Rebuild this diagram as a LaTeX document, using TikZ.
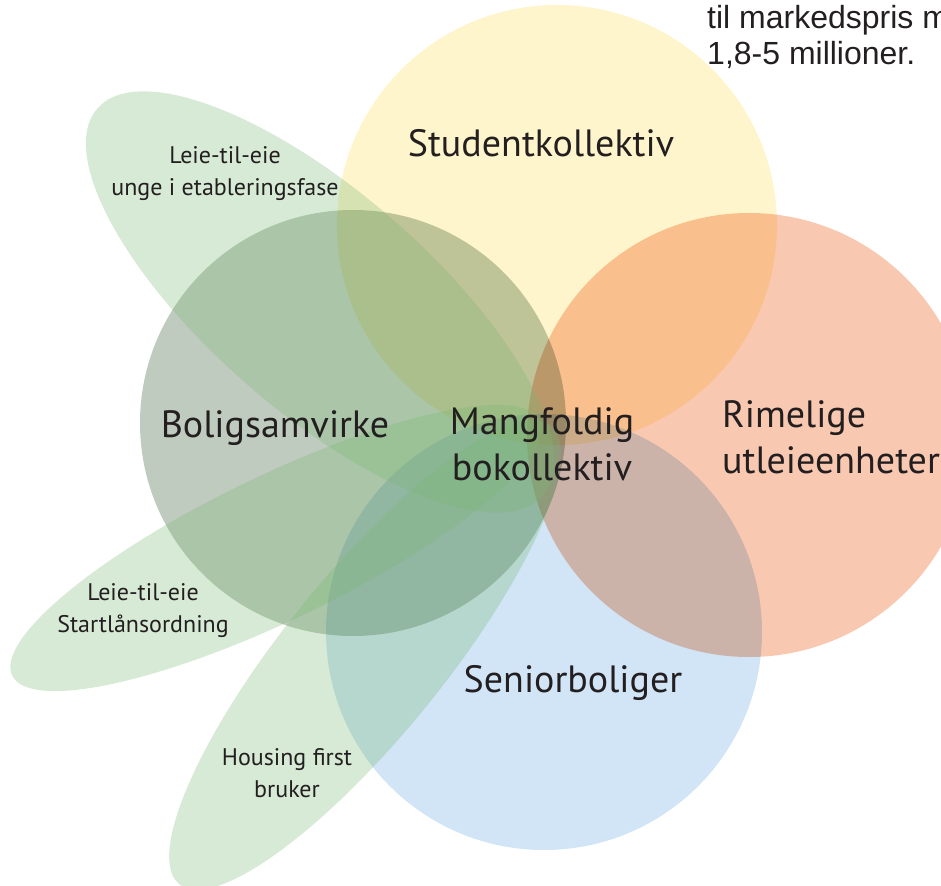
\documentclass[tikz,border=0pt]{standalone}
\usepackage{fontspec}
\setmainfont{PT Sans}
\newfontfamily\arialfont{Liberation Sans}
\definecolor{studyellow}{HTML}{FFF5CC}
\definecolor{rentorange}{HTML}{F9C8B1}
\definecolor{seniorblue}{HTML}{D1E5F6}
\definecolor{coopgrey}{HTML}{BFCBBE}
\definecolor{petalgreen}{HTML}{7AB973}
\definecolor{labeltext}{HTML}{231F20}
\begin{document}
\begin{tikzpicture}[x=1pt,y=-1pt,
	petal/.style={fill=petalgreen, fill opacity=.3},
	big/.style={font=\fontsize{38}{46}\selectfont, text=labeltext, inner sep=0},
	small/.style={font=\fontsize{24}{32}\selectfont, text=labeltext, inner sep=0, align=center}]
	\useasboundingbox (0,0) rectangle (941,885);
	\clip (0,0) rectangle (941,885);
	\begin{scope}[blend mode=multiply]
	\fill[studyellow] (557,225) circle[radius=220];
	\fill[rentorange] (749,435) circle[radius=222];
	\fill[seniorblue] (544,632) circle[radius=218];
	\fill[coopgrey] (353,423) circle[radius=213];
	\end{scope}
	% kronblad
	\fill[petal] (320,302) ellipse[x radius=295, y radius=110, rotate=-41];
	\fill[petal] (276,548) ellipse[x radius=293, y radius=72, rotate=25.8];
	\fill[petal] (365,655) ellipse[x radius=295, y radius=80, rotate=51];
	\node[big, anchor=base] (stud) at (541,157) {Studentkollektiv};
	\node[big, anchor=base] (bolig) at (275,437) {Boligsamvirke};
	\node[big, anchor=base] (senior) at (573,692) {Seniorboliger};
	\node[big, align=center] (mang) at (542,444) {Mangfoldig\\bokollektiv};
	\node[big, align=left, anchor=west] (rim) at (722,437) {Rimelige\\utleieenheter};
	\node[small] (unge) at (225,174) {Leie-til-eie\\unge i etableringsfase};
	\node[small] (start) at (143,611) {Leie-til-eie\\Startlånsordning};
	\node[small] (housing) at (287,773) {Housing first\\bruker};
	\node[font=\arialfont\fontsize{32}{36}\selectfont, text=labeltext, inner sep=0, align=left, anchor=north west] (pris) at (707,5) {til markedspris m\\1,8-5 millioner.};
\end{tikzpicture}
\end{document}
